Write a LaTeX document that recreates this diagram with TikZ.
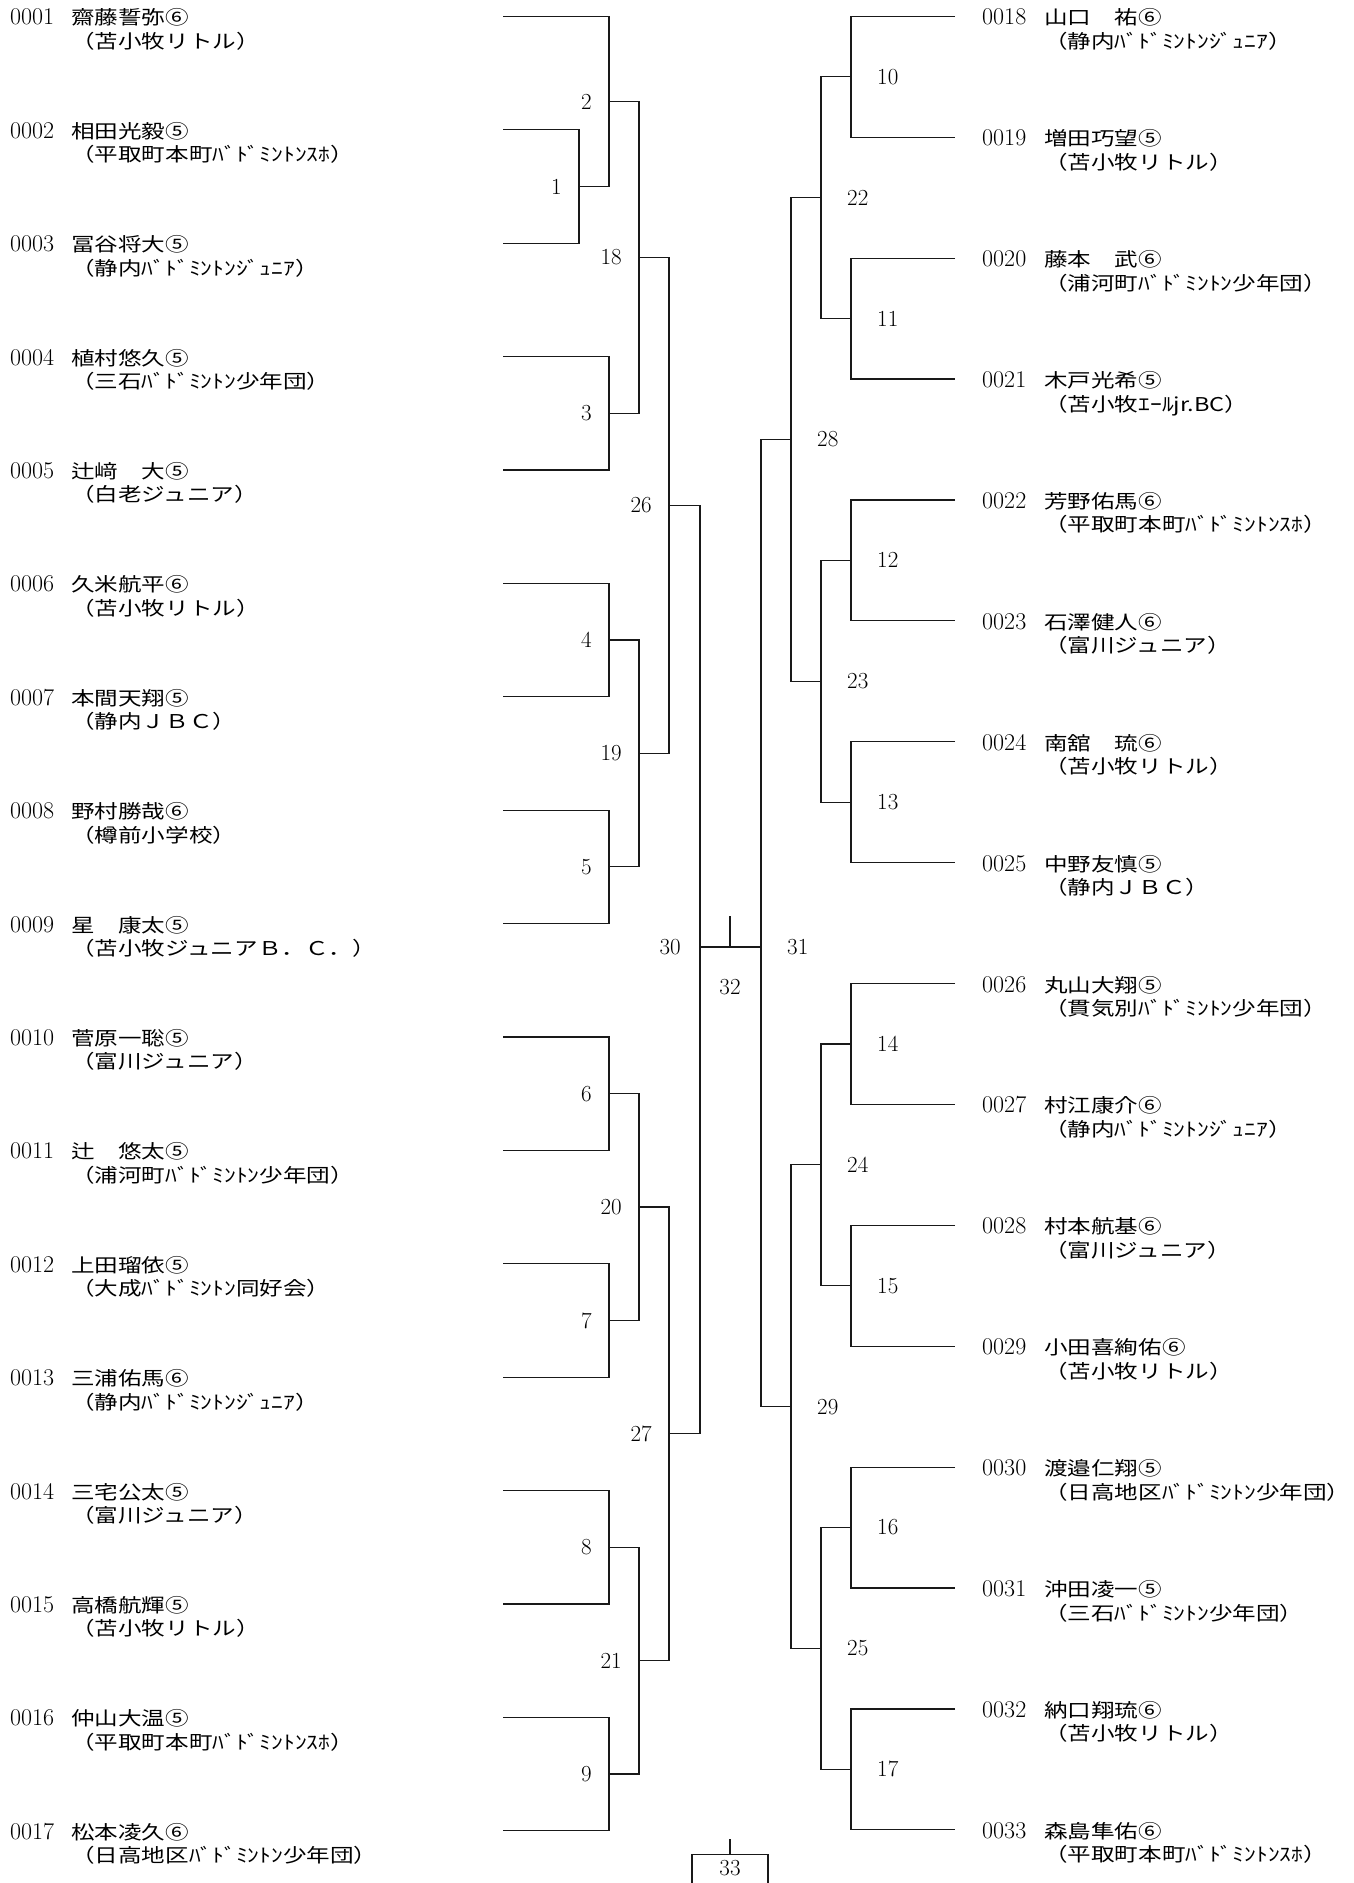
\documentclass[tikz,border=0pt]{standalone}
\usepackage{fontspec}
\usepackage{tikz}
\usetikzlibrary{positioning}
\newfontfamily\jp[FakeStretch=1.24]{Noto Sans CJK JP}

\begin{document}
\begin{tikzpicture}[
    x=1pt, y=-1pt,
    br/.style={line width=1.2pt, black!90},
    pid/.style={anchor=base west, inner sep=0pt, font=\fontsize{24}{24}\selectfont},
    pname/.style={anchor=base west, inner sep=0pt, font=\jp\fontsize{19}{19}\selectfont},
    num/.style={inner sep=1pt, font=\fontsize{23}{23}\selectfont},
  ]
  \useasboundingbox (0,0) rectangle (1354,1883);

  %% ---- players, left half -------------------------------------------
  \foreach \k/\nm/\cl [count=\i] in {
      0001/齋藤誓弥⑥/苫小牧リトル,
      0002/相田光毅⑤/平取町本町ﾊﾞﾄﾞﾐﾝﾄﾝｽﾎ,
      0003/冨谷将大⑤/静内ﾊﾞﾄﾞﾐﾝﾄﾝｼﾞｭﾆｱ,
      0004/植村悠久⑤/三石ﾊﾞﾄﾞﾐﾝﾄﾝ少年団,
      0005/辻﨑　大⑤/白老ジュニア,
      0006/久米航平⑥/苫小牧リトル,
      0007/本間天翔⑤/静内ＪＢＣ,
      0008/野村勝哉⑥/樽前小学校,
      0009/星　康太⑤/苫小牧ジュニアＢ．Ｃ．,
      0010/菅原一聡⑤/富川ジュニア,
      0011/辻　悠太⑤/浦河町ﾊﾞﾄﾞﾐﾝﾄﾝ少年団,
      0012/上田瑠依⑤/大成ﾊﾞﾄﾞﾐﾝﾄﾝ同好会,
      0013/三浦佑馬⑥/静内ﾊﾞﾄﾞﾐﾝﾄﾝｼﾞｭﾆｱ,
      0014/三宅公太⑤/富川ジュニア,
      0015/高橋航輝⑤/苫小牧リトル,
      0016/仲山大温⑤/平取町本町ﾊﾞﾄﾞﾐﾝﾄﾝｽﾎ,
      0017/松本凌久⑥/日高地区ﾊﾞﾄﾞﾐﾝﾄﾝ少年団}{
    \pgfmathsetmacro\yy{16.3+(\i-1)*113.4}
    \node[pid]   (p\i) at (10,\yy+8.5) {\k};
    \node[pname] (n\i) at (71,\yy+8.5) {\nm};
    \node[pname] (c\i) at (71,\yy+32)  {（\cl）};
    \coordinate (l\i) at (503,\yy);
  }

  %% ---- players, right half ------------------------------------------
  \foreach \k/\nm/\cl [count=\i from 18] in {
      0018/山口　祐⑥/静内ﾊﾞﾄﾞﾐﾝﾄﾝｼﾞｭﾆｱ,
      0019/増田巧望⑤/苫小牧リトル,
      0020/藤本　武⑥/浦河町ﾊﾞﾄﾞﾐﾝﾄﾝ少年団,
      0021/木戸光希⑤/苫小牧ｴｰﾙjr.BC,
      0022/芳野佑馬⑥/平取町本町ﾊﾞﾄﾞﾐﾝﾄﾝｽﾎ,
      0023/石澤健人⑥/富川ジュニア,
      0024/南舘　琉⑥/苫小牧リトル,
      0025/中野友慎⑤/静内ＪＢＣ,
      0026/丸山大翔⑤/貫気別ﾊﾞﾄﾞﾐﾝﾄﾝ少年団,
      0027/村江康介⑥/静内ﾊﾞﾄﾞﾐﾝﾄﾝｼﾞｭﾆｱ,
      0028/村本航基⑥/富川ジュニア,
      0029/小田喜絢佑⑥/苫小牧リトル,
      0030/渡邉仁翔⑤/日高地区ﾊﾞﾄﾞﾐﾝﾄﾝ少年団,
      0031/沖田凌一⑤/三石ﾊﾞﾄﾞﾐﾝﾄﾝ少年団,
      0032/納口翔琉⑥/苫小牧リトル,
      0033/森島隼佑⑥/平取町本町ﾊﾞﾄﾞﾐﾝﾄﾝｽﾎ}{
    \pgfmathsetmacro\yy{16.3+(\i-18)*120.9}
    \node[pid]   (p\i) at (982,\yy+8.5) {\k};
    \node[pname] (n\i) at (1044,\yy+8.5) {\nm};
    \node[pname] (c\i) at (1044,\yy+32)  {（\cl）};
    \coordinate (l\i) at (955,\yy);
  }

  %% ---- bracket, left half -------------------------------------------
  \coordinate (m1)  at (579,186.4);
  \coordinate (m2)  at (609,101.4);
  \coordinate (m3)  at (609,413.2);
  \coordinate (m4)  at (609,640);
  \coordinate (m5)  at (609,866.8);
  \coordinate (m6)  at (609,1093.6);
  \coordinate (m7)  at (609,1320.4);
  \coordinate (m8)  at (609,1547.2);
  \coordinate (m9)  at (609,1774);
  \coordinate (m18) at (639,257.3);
  \coordinate (m19) at (639,753.4);
  \coordinate (m20) at (639,1207);
  \coordinate (m21) at (639,1660.6);
  \coordinate (m26) at (669,505.4);
  \coordinate (m27) at (669,1433.8);
  \coordinate (m30) at (700,947);

  \draw[br] (l2) -| (m1) |- (l3);
  \draw[br] (l1) -| (m2) |- (m1);
  \draw[br] (l4) -| (m3) |- (l5);
  \draw[br] (l6) -| (m4) |- (l7);
  \draw[br] (l8) -| (m5) |- (l9);
  \draw[br] (l10) -| (m6) |- (l11);
  \draw[br] (l12) -| (m7) |- (l13);
  \draw[br] (l14) -| (m8) |- (l15);
  \draw[br] (l16) -| (m9) |- (l17);
  \draw[br] (m2) -| (m18) |- (m3);
  \draw[br] (m4) -| (m19) |- (m5);
  \draw[br] (m6) -| (m20) |- (m7);
  \draw[br] (m8) -| (m21) |- (m9);
  \draw[br] (m18) -| (m26) |- (m19);
  \draw[br] (m20) -| (m27) |- (m21);
  \draw[br] (m26) -| (m30) |- (m27);

  \foreach \m in {1,2,3,4,5,6,7,8,9,18,19,20,21,26,27}
    \node[num, left=16pt of m\m] (t\m) {\m};
  \node[num, left=18pt of m30] (t30) {30};

  %% ---- bracket, right half ------------------------------------------
  \coordinate (m10) at (851,76.75);
  \coordinate (m11) at (851,318.55);
  \coordinate (m12) at (851,560.35);
  \coordinate (m13) at (851,802.15);
  \coordinate (m14) at (851,1043.95);
  \coordinate (m15) at (851,1285.75);
  \coordinate (m16) at (851,1527.55);
  \coordinate (m17) at (851,1769.35);
  \coordinate (m22) at (821,197.65);
  \coordinate (m23) at (821,681.25);
  \coordinate (m24) at (821,1164.85);
  \coordinate (m25) at (821,1648.45);
  \coordinate (m28) at (791,439.45);
  \coordinate (m29) at (791,1406.65);
  \coordinate (m31) at (761,947);

  \draw[br] (l18) -| (m10) |- (l19);
  \draw[br] (l20) -| (m11) |- (l21);
  \draw[br] (l22) -| (m12) |- (l23);
  \draw[br] (l24) -| (m13) |- (l25);
  \draw[br] (l26) -| (m14) |- (l27);
  \draw[br] (l28) -| (m15) |- (l29);
  \draw[br] (l30) -| (m16) |- (l31);
  \draw[br] (l32) -| (m17) |- (l33);
  \draw[br] (m10) -| (m22) |- (m11);
  \draw[br] (m12) -| (m23) |- (m13);
  \draw[br] (m14) -| (m24) |- (m15);
  \draw[br] (m16) -| (m25) |- (m17);
  \draw[br] (m22) -| (m28) |- (m23);
  \draw[br] (m24) -| (m29) |- (m25);
  \draw[br] (m28) -| (m31) |- (m29);

  \foreach \m in {10,11,12,13,14,15,16,17,22,23,24,25,28,29,31}
    \node[num, right=25pt of m\m] (t\m) {\m};

  %% ---- final and match 33 -------------------------------------------
  \coordinate (m32) at (730,947);
  \coordinate (w32) at (730,916);
  \draw[br] (m30) -- (m31);
  \draw[br] (m32) -- (w32);
  \node[num, below=31pt of m32] (t32) {32};

  \coordinate (m33) at (730,1854);
  \coordinate (w33) at (730,1839);
  \node[br, draw, minimum width=76pt, minimum height=60pt, anchor=north] (b33) at (m33) {};
  \draw[br] (b33.north) -- (w33);
  \node[num, below=5pt of b33.north] (t33) {33};
\end{tikzpicture}
\end{document}
